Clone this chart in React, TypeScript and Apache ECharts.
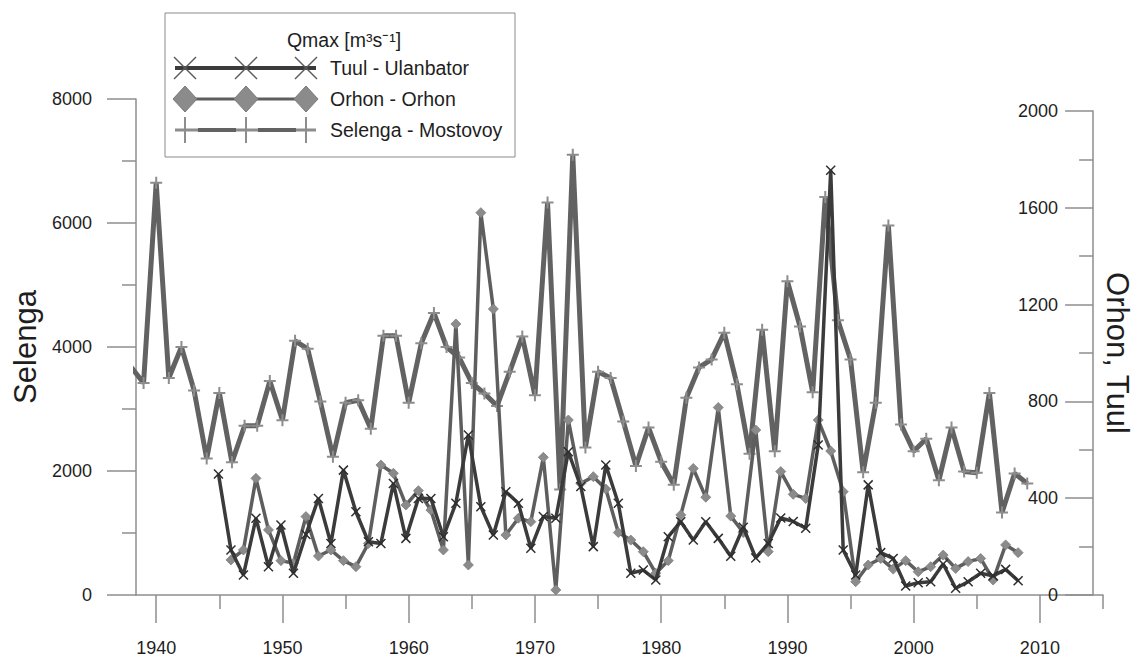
import React, { useEffect, useRef } from 'react';
import * as echarts from 'echarts';

// ---- Data (annual maximum discharge, m3/s) ----
const SELENGA_START = 1938;
const selenga = [
  3680, 3420, 6650, 3500, 4000, 3300, 2200, 3260, 2140, 2730, // 1938-1947
  2730, 3450, 2820, 4100, 3970, 3120, 2230, 3100, 3140, 2680, // 1948-1957
  4180, 4180, 3100, 4060, 4550, 4000, 3830, 3420, 3250, 3050, // 1958-1967
  3600, 4170, 3220, 6330, 1700, 7100, 2380, 3600, 3500, 2800, // 1968-1977
  2080, 2700, 2150, 1780, 3180, 3670, 3800, 4230, 3400, 2280, // 1978-1987
  4280, 2320, 5060, 4330, 3270, 6420, 4430, 3800, 1980, 3100, // 1988-1997
  5960, 2750, 2320, 2520, 1850, 2700, 1990, 1970, 3260, 1330, // 1998-2007
  1960, 1800, // 2008-2009
];

const TUUL_START = 1945;
const tuul = [
  500, 186, 83, 317, 117, 289, 90, 250, 399, 213, // 1945-1954
  516, 344, 220, 213, 461, 234, 399, 399, 241, 379, // 1955-1964
  661, 365, 248, 427, 379, 193, 324, 317, 592, 448, // 1965-1974
  200, 537, 379, 90, 103, 62, 241, 303, 227, 303, // 1975-1984
  234, 160, 280, 153, 213, 318, 304, 276, 620, 1755, // 1985-1994
  186, 83, 455, 175, 151, 37, 51, 55, 128, 28, // 1995-2004
  55, 90, 79, 106, 59, // 2005-2009
];

const ORHON_START = 1946;
const orhon = [
  145, 186, 482, 269, 142, 131, 324, 161, 186, 142, // 1946-1955
  117, 213, 537, 503, 372, 431, 351, 186, 1120, 124, // 1956-1965
  1580, 1182, 248, 317, 303, 569, 21, 723, 461, 489, // 1966-1975
  438, 258, 227, 179, 90, 142, 331, 523, 404, 775, // 1976-1985
  326, 258, 682, 179, 510, 416, 399, 723, 595, 427, // 1986-1995
  55, 124, 151, 107, 142, 96, 117, 165, 110, 138, // 1996-2005
  151, 62, 207, 175, // 2006-2009
];

const SERIES_NAMES = ['Tuul - Ulanbator', 'Orhon - Orhon', 'Selenga - Mostovoy'];
const LEGEND_TITLE = 'Qmax [m³s⁻¹]';
const LEFT_AXIS_NAME = 'Selenga';
const RIGHT_AXIS_NAME = 'Orhon, Tuul';
const X_MAJOR_TICKS = [1940, 1950, 1960, 1970, 1980, 1990, 2000, 2010];
const X_MINOR_TICKS = [1945, 1955, 1965, 1975, 1985, 1995, 2005, 2015];

const FONT = '"Liberation Sans", Arial, Helvetica, sans-serif';
const AXIS_COLOR = '#8e8e8e';
const TEXT_COLOR = '#1e1e1e';
const LABEL_SIZE = 18;
const LEGEND_SIZE = 19.5;
const TITLE_SIZE = 31;

const C_TUUL = '#3b3b3b';
const C_ORHON_LINE = '#5e5e5e';
const C_ORHON_MARK = '#8b8b8b';
const C_SEL_LINE = '#626262';
const C_SEL_MARK = '#8d8d8d';

const X_SYMBOL = 'path://M0,0L10,10M10,0L0,10';
const PLUS_SYMBOL = 'path://M5,0L5,10M0,5L10,5';

const toPairs = (start: number, vals: number[]) => vals.map((v, i) => [start + i, v]);

function buildLegend() {
  const els: any[] = [];
  els.push({
    type: 'rect',
    shape: { x: 165, y: 13, width: 350, height: 144 },
    style: { fill: '#ffffff', stroke: '#8a8a8a', lineWidth: 1 },
    z: 10,
  });
  els.push({
    type: 'text',
    x: 344,
    y: 40,
    style: {
      text: LEGEND_TITLE,
      font: `${LEGEND_SIZE}px ${FONT}`,
      fill: TEXT_COLOR,
      textAlign: 'center',
      textVerticalAlign: 'middle',
    },
    z: 11,
  });
  const rowsY = [68, 99, 130];
  const mx = [185, 246, 306];
  // Tuul row
  {
    const y = rowsY[0];
    els.push({ type: 'line', shape: { x1: 175, y1: y, x2: 316, y2: y }, style: { stroke: C_TUUL, lineWidth: 4 }, z: 11 });
    mx.forEach((cx) => {
      els.push({ type: 'line', shape: { x1: cx - 11, y1: y - 11, x2: cx + 11, y2: y + 11 }, style: { stroke: '#5a5a5a', lineWidth: 1.5 }, z: 12 });
      els.push({ type: 'line', shape: { x1: cx - 11, y1: y + 11, x2: cx + 11, y2: y - 11 }, style: { stroke: '#5a5a5a', lineWidth: 1.5 }, z: 12 });
    });
  }
  // Orhon row
  {
    const y = rowsY[1];
    els.push({ type: 'line', shape: { x1: 175, y1: y, x2: 316, y2: y }, style: { stroke: C_ORHON_LINE, lineWidth: 3 }, z: 11 });
    mx.forEach((cx) => {
      els.push({
        type: 'polygon',
        shape: { points: [[cx - 12, y], [cx, y - 13], [cx + 12, y], [cx, y + 13]] },
        style: { fill: C_ORHON_MARK, stroke: '#7a7a7a', lineWidth: 1 },
        z: 12,
      });
    });
  }
  // Selenga row
  {
    const y = rowsY[2];
    els.push({ type: 'line', shape: { x1: 175, y1: y, x2: 316, y2: y }, style: { stroke: C_SEL_MARK, lineWidth: 3 }, z: 11 });
    els.push({ type: 'line', shape: { x1: 198, y1: y, x2: 236, y2: y }, style: { stroke: C_SEL_LINE, lineWidth: 4 }, z: 11 });
    els.push({ type: 'line', shape: { x1: 258, y1: y, x2: 296, y2: y }, style: { stroke: C_SEL_LINE, lineWidth: 4 }, z: 11 });
    mx.forEach((cx) => {
      els.push({ type: 'line', shape: { x1: cx, y1: y - 13, x2: cx, y2: y + 13 }, style: { stroke: C_SEL_MARK, lineWidth: 2 }, z: 12 });
    });
  }
  SERIES_NAMES.forEach((name, i) => {
    els.push({
      type: 'text',
      x: 330,
      y: rowsY[i],
      style: {
        text: name,
        font: `${LEGEND_SIZE}px ${FONT}`,
        fill: TEXT_COLOR,
        textAlign: 'left',
        textVerticalAlign: 'middle',
      },
      z: 12,
    });
  });
  return els;
}

export default function App() {
  const ref = useRef<HTMLDivElement>(null);

  useEffect(() => {
    if (!ref.current) return;
    const chart = echarts.init(ref.current, undefined, { renderer: 'svg' });

    const axisLine = { show: true, lineStyle: { color: AXIS_COLOR, width: 1.5 } };
    const xCommon = { type: 'value', min: 1938.4, max: 2015, splitLine: { show: false } };
    const plain = (v: number) => String(v);

    const option: any = {
      animation: false,
      backgroundColor: '#ffffff',
      grid: [
        { left: 136, right: 38, top: 99, bottom: 62, containLabel: false },
        { left: 136, right: 38, top: 111, bottom: 62, containLabel: false },
      ],
      xAxis: [
        {
          ...xCommon,
          gridIndex: 0,
          position: 'bottom',
          axisLine,
          axisTick: { show: true, length: 28, customValues: X_MAJOR_TICKS, lineStyle: { color: AXIS_COLOR, width: 1.5 } },
          axisLabel: {
            show: true,
            customValues: X_MAJOR_TICKS,
            margin: 44,
            fontSize: LABEL_SIZE,
            fontFamily: FONT,
            color: TEXT_COLOR,
            formatter: plain,
          },
        },
        {
          ...xCommon,
          gridIndex: 0,
          position: 'bottom',
          axisLine: { show: false },
          axisTick: { show: true, length: 14, customValues: X_MINOR_TICKS, lineStyle: { color: AXIS_COLOR, width: 1.5 } },
          axisLabel: { show: false },
        },
        {
          ...xCommon,
          gridIndex: 1,
          show: false,
        },
      ],
      yAxis: [
        {
          type: 'value',
          gridIndex: 0,
          position: 'left',
          min: 0,
          max: 8000,
          interval: 2000,
          axisLine,
          axisTick: { show: true, length: 29, lineStyle: { color: AXIS_COLOR, width: 1.5 } },
          minorTick: { show: true, splitNumber: 2, length: 14, lineStyle: { color: AXIS_COLOR, width: 1.5 } },
          splitLine: { show: false },
          minorSplitLine: { show: false },
          axisLabel: { margin: 44, fontSize: LABEL_SIZE, fontFamily: FONT, color: TEXT_COLOR, formatter: plain },
          name: LEFT_AXIS_NAME,
          nameLocation: 'middle',
          nameGap: 93,
          nameTextStyle: { fontSize: TITLE_SIZE, fontFamily: FONT, color: TEXT_COLOR },
        },
        {
          type: 'value',
          gridIndex: 1,
          position: 'right',
          min: 0,
          max: 2000,
          interval: 400,
          axisLine,
          axisTick: { show: true, inside: true, length: 28, lineStyle: { color: AXIS_COLOR, width: 1.5 } },
          minorTick: { show: true, splitNumber: 2, length: 14, lineStyle: { color: AXIS_COLOR, width: 1.5 } },
          splitLine: { show: false },
          minorSplitLine: { show: false },
          axisLabel: { inside: true, margin: 35, fontSize: LABEL_SIZE, fontFamily: FONT, color: TEXT_COLOR, formatter: plain },
          name: RIGHT_AXIS_NAME,
          nameLocation: 'middle',
          nameRotate: -90,
          nameGap: 1,
          nameTextStyle: { fontSize: TITLE_SIZE, fontFamily: FONT, color: TEXT_COLOR },
        },
      ],
      series: [
        {
          name: SERIES_NAMES[2],
          type: 'line',
          xAxisIndex: 0,
          yAxisIndex: 0,
          data: toPairs(SELENGA_START, selenga),
          symbol: PLUS_SYMBOL,
          symbolSize: 12,
          lineStyle: { color: C_SEL_LINE, width: 5 },
          itemStyle: { color: C_SEL_MARK, borderColor: C_SEL_MARK, borderWidth: 2 },
          z: 2,
        },
        {
          name: SERIES_NAMES[1],
          type: 'line',
          xAxisIndex: 2,
          yAxisIndex: 1,
          data: toPairs(ORHON_START, orhon),
          symbol: 'diamond',
          symbolSize: 10,
          lineStyle: { color: C_ORHON_LINE, width: 3.5 },
          itemStyle: { color: C_ORHON_MARK, borderColor: '#7d7d7d', borderWidth: 0.8 },
          z: 3,
        },
        {
          name: SERIES_NAMES[0],
          type: 'line',
          xAxisIndex: 2,
          yAxisIndex: 1,
          data: toPairs(TUUL_START, tuul),
          symbol: X_SYMBOL,
          symbolSize: 9,
          lineStyle: { color: C_TUUL, width: 3.5 },
          itemStyle: { color: '#2e2e2e', borderColor: '#2e2e2e', borderWidth: 1.5 },
          z: 4,
        },
      ],
      graphic: buildLegend(),
    };

    chart.setOption(option);
    return () => {
      chart.dispose();
    };
  }, []);

  return (
    <div
      ref={ref}
      style={{ position: 'absolute', left: 0, top: 0, width: 1141, height: 657, background: '#fff' }}
    />
  );
}
